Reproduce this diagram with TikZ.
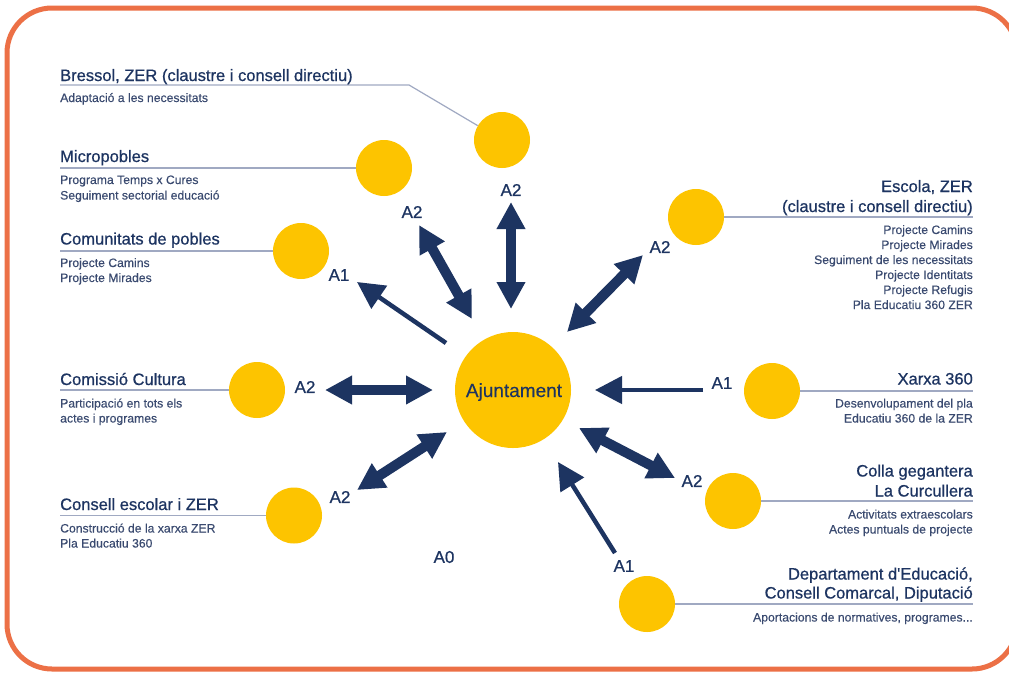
\documentclass[tikz,border=0pt]{standalone}
\usepackage{fontspec}
\setmainfont{Liberation Sans}
\newfontfamily\medfont{Liberation Sans}[FakeBold=0.7]
\newfontfamily\subfont{Liberation Sans}[FakeBold=0.25]
\usetikzlibrary{arrows.meta}
\definecolor{navy}{RGB}{29,52,97}
\definecolor{subnavy}{RGB}{58,74,112}
\definecolor{sun}{RGB}{253,196,0}
\definecolor{rulec}{RGB}{160,169,194}
\definecolor{framec}{RGB}{236,112,70}
\tikzset{
  head/.style={font=\medfont\fontsize{16.5}{19}\selectfont, text=navy, inner sep=0},
  sub/.style={font=\subfont\fontsize{12.2}{15}\selectfont, text=subnavy, inner sep=0},
  lab/.style={font=\medfont\fontsize{17}{20}\selectfont, text=navy, inner sep=0},
  dot/.style={circle, fill=sun, minimum size=56, inner sep=0},
  bigdot/.style={circle, fill=sun, minimum size=116, inner sep=0},
  rl/.style={draw=rulec, line width=1.2},
  dbl/.style={draw=navy, line width=10, {Triangle[length=27pt,width=27pt]}-{Triangle[length=27pt,width=27pt]}},
  sgl/.style={draw=navy, line width=4.5, -{Triangle[length=27pt,width=27pt]}}
}
\begin{document}
\begin{tikzpicture}[x=1pt,y=-1pt]
\useasboundingbox (0,0) rectangle (1009,673);
\fill[white] (0,0) rectangle (1009,673);
\draw[framec, line width=5, rounded corners=45] (7,8) rectangle (1017,669);

% circles
\node[bigdot] (ajunt) at (513,390) {};
\node[dot] (bressol) at (502,140) {};
\node[dot] (micro) at (384,168) {};
\node[dot] (comun) at (301,251) {};
\node[dot] (comiss) at (257,390) {};
\node[dot] (consell) at (294,515.5) {};
\node[dot] (escola) at (696,217) {};
\node[dot] (xarxa) at (772,391) {};
\node[dot] (colla) at (733,501) {};
\node[dot] (dep) at (647,604) {};

\node[font=\subfont\fontsize{19}{22}\selectfont, text=navy, inner sep=0, anchor=base] (ajtxt) at (514,397) {Ajuntament};

% rules
\coordinate (bresL) at (60,85);
\coordinate (bresK) at (409,85);
\draw[rl] (bresL) -- (bresK) -- (bressol);
\coordinate (microL) at (60,168);
\draw[rl] (microL) -- (micro.west);
\coordinate (comunL) at (60,251);
\draw[rl] (comunL) -- (comun.west);
\coordinate (comissL) at (60,390);
\draw[rl] (comissL) -- (comiss.west);
\coordinate (consellL) at (60,515.5);
\draw[rl] (consellL) -- (consell.west);
\coordinate (escolaR) at (973,217);
\draw[rl] (escola.east) -- (escolaR);
\coordinate (xarxaR) at (973,391);
\draw[rl] (xarxa.east) -- (xarxaR);
\coordinate (collaR) at (973,501);
\draw[rl] (colla.east) -- (collaR);
\coordinate (depR) at (973,604);
\draw[rl] (dep.east) -- (depR);

% left texts
\node[head, anchor=base west] (t1) at (60,81) {Bressol, ZER (claustre i consell directiu)};
\node[sub, anchor=base west] (t1a) at (60,102) {Adaptació a les necessitats};
\node[head, anchor=base west] (t2) at (60,162) {Micropobles};
\node[sub, anchor=base west] (t2a) at (60,184) {Programa Temps x Cures};
\node[sub, anchor=base west] (t2b) at (60,199.5) {Seguiment sectorial educació};
\node[head, anchor=base west] (t3) at (60,244.5) {Comunitats de pobles};
\node[sub, anchor=base west] (t3a) at (60,267) {Projecte Camins};
\node[sub, anchor=base west] (t3b) at (60,282) {Projecte Mirades};
\node[head, anchor=base west] (t4) at (60,385) {Comissió Cultura};
\node[sub, anchor=base west] (t4a) at (60,407.5) {Participació en tots els};
\node[sub, anchor=base west] (t4b) at (60,422.5) {actes i programes};
\node[head, anchor=base west] (t5) at (60,510) {Consell escolar i ZER};
\node[sub, anchor=base west] (t5a) at (60,532.5) {Construcció de la xarxa ZER};
\node[sub, anchor=base west] (t5b) at (60,547.5) {Pla Educatiu 360};

% right texts
\node[head, anchor=base east] (r1) at (973,192) {Escola, ZER};
\node[head, anchor=base east] (r1b) at (973,212) {(claustre i consell directiu)};
\node[sub, anchor=base east] (r1c) at (973,234) {Projecte Camins};
\node[sub, anchor=base east] (r1d) at (973,249) {Projecte Mirades};
\node[sub, anchor=base east] (r1e) at (973,264) {Seguiment de les necessitats};
\node[sub, anchor=base east] (r1f) at (973,279) {Projecte Identitats};
\node[sub, anchor=base east] (r1g) at (973,294) {Projecte Refugis};
\node[sub, anchor=base east] (r1h) at (973,309) {Pla Educatiu 360 ZER};
\node[head, anchor=base east] (r2) at (973,384.5) {Xarxa 360};
\node[sub, anchor=base east] (r2a) at (973,407.5) {Desenvolupament del pla};
\node[sub, anchor=base east] (r2b) at (973,422.5) {Educatiu 360 de la ZER};
\node[head, anchor=base east] (r3) at (973,476.5) {Colla gegantera};
\node[head, anchor=base east] (r3b) at (973,496.5) {La Curcullera};
\node[sub, anchor=base east] (r3c) at (973,518.5) {Activitats extraescolars};
\node[sub, anchor=base east] (r3d) at (973,533.5) {Actes puntuals de projecte};
\node[head, anchor=base east] (r4) at (973,579.5) {Departament d{\char"27}Educació,};
\node[head, anchor=base east] (r4b) at (973,598.5) {Consell Comarcal, Diputació};
\node[sub, anchor=base east] (r4c) at (973,621.5) {Aportacions de normatives, programes...};

% arrows
\coordinate (aB1) at (511,202); \coordinate (aB2) at (511,309);
\draw[dbl] (aB1) -- (aB2);
\coordinate (aM1) at (419,225); \coordinate (aM2) at (472,319);
\draw[dbl] (aM1) -- (aM2);
\coordinate (aC1) at (446,343); \coordinate (aC2) at (357,282);
\draw[sgl] (aC1) -- (aC2);
\coordinate (aE1) at (643,255); \coordinate (aE2) at (567,332);
\draw[dbl] (aE1) -- (aE2);
\coordinate (aK1) at (325,390); \coordinate (aK2) at (433,390);
\draw[dbl] (aK1) -- (aK2);
\coordinate (aS1) at (357,490); \coordinate (aS2) at (447,432);
\draw[dbl] (aS1) -- (aS2);
\coordinate (aX1) at (703,390); \coordinate (aX2) at (595,390);
\draw[sgl] (aX1) -- (aX2);
\coordinate (aG1) at (579,428); \coordinate (aG2) at (675,478);
\draw[dbl] (aG1) -- (aG2);
\coordinate (aD1) at (615,553); \coordinate (aD2) at (558,462);
\draw[sgl] (aD1) -- (aD2);

% labels
\node[lab] (l1) at (511,190) {A2};
\node[lab] (l2) at (412,212) {A2};
\node[lab] (l3) at (339,275) {A1};
\node[lab] (l4) at (660,247) {A2};
\node[lab] (l5) at (305,387) {A2};
\node[lab] (l6) at (340,497) {A2};
\node[lab] (l7) at (444,557) {A0};
\node[lab] (l8) at (722,383) {A1};
\node[lab] (l9) at (692,481) {A2};
\node[lab] (l10) at (624,566) {A1};
\end{tikzpicture}
\end{document}
